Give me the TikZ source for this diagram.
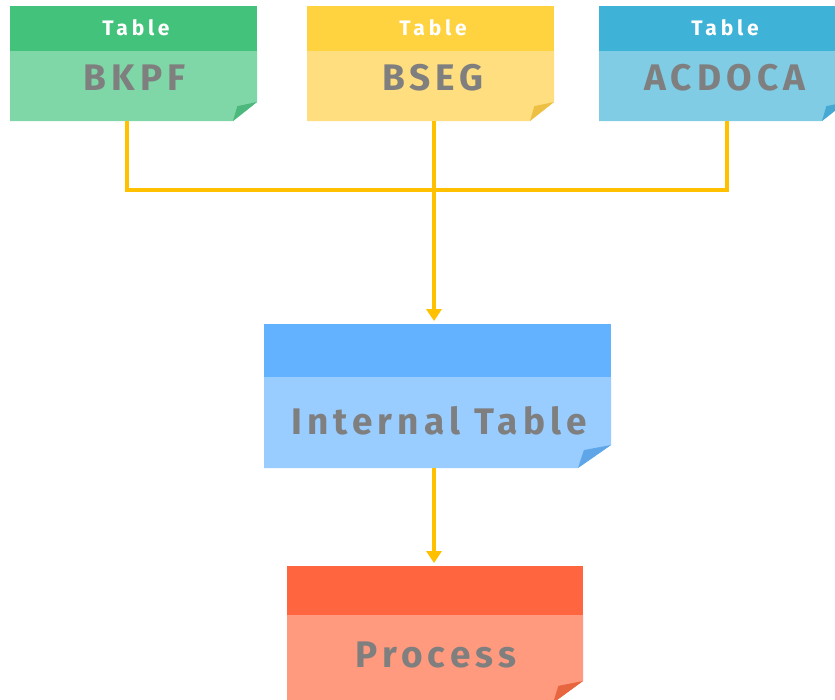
\documentclass[tikz,border=0pt]{standalone}
\usepackage{fontspec}
\setmainfont{Fira Sans}
\newfontfamily\bodyfont[LetterSpace=14]{Fira Sans}
\newfontfamily\headfont[LetterSpace=18]{Fira Sans}
\usetikzlibrary{arrows.meta,calc}
\definecolor{conn}{HTML}{FFC000}
\definecolor{grtext}{HTML}{7F7F7F}
\definecolor{gH}{HTML}{42C27A}\definecolor{gB}{HTML}{7FD6A6}\definecolor{gF}{HTML}{4DB87C}
\definecolor{yH}{HTML}{FFD23F}\definecolor{yB}{HTML}{FFDE80}\definecolor{yF}{HTML}{EDC043}
\definecolor{cH}{HTML}{3FB2D8}\definecolor{cB}{HTML}{80CCE4}\definecolor{cF}{HTML}{45A9D4}
\definecolor{bH}{HTML}{63B2FF}\definecolor{bB}{HTML}{99CCFF}\definecolor{bF}{HTML}{5FA6E8}
\definecolor{rH}{HTML}{FF6640}\definecolor{rB}{HTML}{FF9A7E}\definecolor{rF}{HTML}{E8663F}
\newcommand\stickynote[9]{%
  % #1 name, #2 x1, #3 y1, #4 x2, #5 ysplit, #6 y2, #7 head, #8 body, #9 fold
  \fill[#7] (#2,#3) rectangle (#4,#5);
  \fill[#8] (#2,#5) -- (#4,#5) -- (#4,#6-\fy) -- (#4-\fx,#6) -- (#2,#6) -- cycle;
  \fill[#9] (#4,#6-\fy) -- (#4-\fx,#6) -- (#4-0.82*\fx,#6-0.78*\fy) -- cycle;
  \node[notebox, minimum width={(#4-#2)*1pt}, minimum height={(#6-#3)*1pt}] (#1) at ({(#2+#4)/2},{(#3+#6)/2}) {};
}
\begin{document}
\begin{tikzpicture}[x=1pt,y=-1pt,
  notebox/.style={inner sep=0pt, outer sep=0pt, draw=none},
  headtxt/.style={text=white, font=\headfont\bfseries\fontsize{21}{23}\selectfont, inner sep=0pt},
  bodytxt/.style={text=grtext, font=\bodyfont\bfseries\fontsize{37}{40}\selectfont, inner sep=0pt},
  connector/.style={draw=conn, line width=4pt},
  arrowed/.style={connector, -{Triangle[width=15pt,length=12pt]}}]
\useasboundingbox (0,0) rectangle (835,699);
\fill[white] (0,0) rectangle (835,699);
\begin{scope}
\clip (0,0) rectangle (835,699);
\def\fx{24}\def\fy{19}
\stickynote{bkpf}{10}{6}{257}{51}{121}{gH}{gB}{gF}
\stickynote{bseg}{307}{6}{554}{51}{121}{yH}{yB}{yF}
\stickynote{acdoca}{599}{6}{846}{51}{121}{cH}{cB}{cF}
\def\fx{33}\def\fy{23}
\stickynote{internal}{264}{324}{611}{377}{468}{bH}{bB}{bF}
\def\fx{30}\def\fy{22}
\stickynote{process}{287}{566}{583}{615}{703}{rH}{rB}{rF}
\end{scope}
% texts
\node[headtxt] (bkpf-h) at (136,28) {Table};
\node[bodytxt] (bkpf-b) at (135,78) {BKPF};
\node[headtxt] (bseg-h) at (433,28) {Table};
\node[bodytxt] (bseg-b) at (433,78) {BSEG};
\node[headtxt] (acdoca-h) at (725,28) {Table};
\node[bodytxt] (acdoca-b) at (725,78) {ACDOCA};
\node[bodytxt] (internal-b) at (439,421) {Internal Table};
\node[bodytxt] (process-b) at (436,655) {Process};
% connectors
\coordinate (join) at (434,190);
\draw[connector] ([xshift=-7pt]bkpf.south) |- (join);
\draw[connector] ([xshift=4pt]acdoca.south) |- (join);
\draw[arrowed, shorten >=3pt] ([xshift=3.5pt]bseg.south) -- ([xshift=-3.5pt]internal.north);
\draw[arrowed, shorten >=3pt] ([xshift=-3.5pt]internal.south) -- ([xshift=-1pt]process.north);
\end{tikzpicture}
\end{document}
